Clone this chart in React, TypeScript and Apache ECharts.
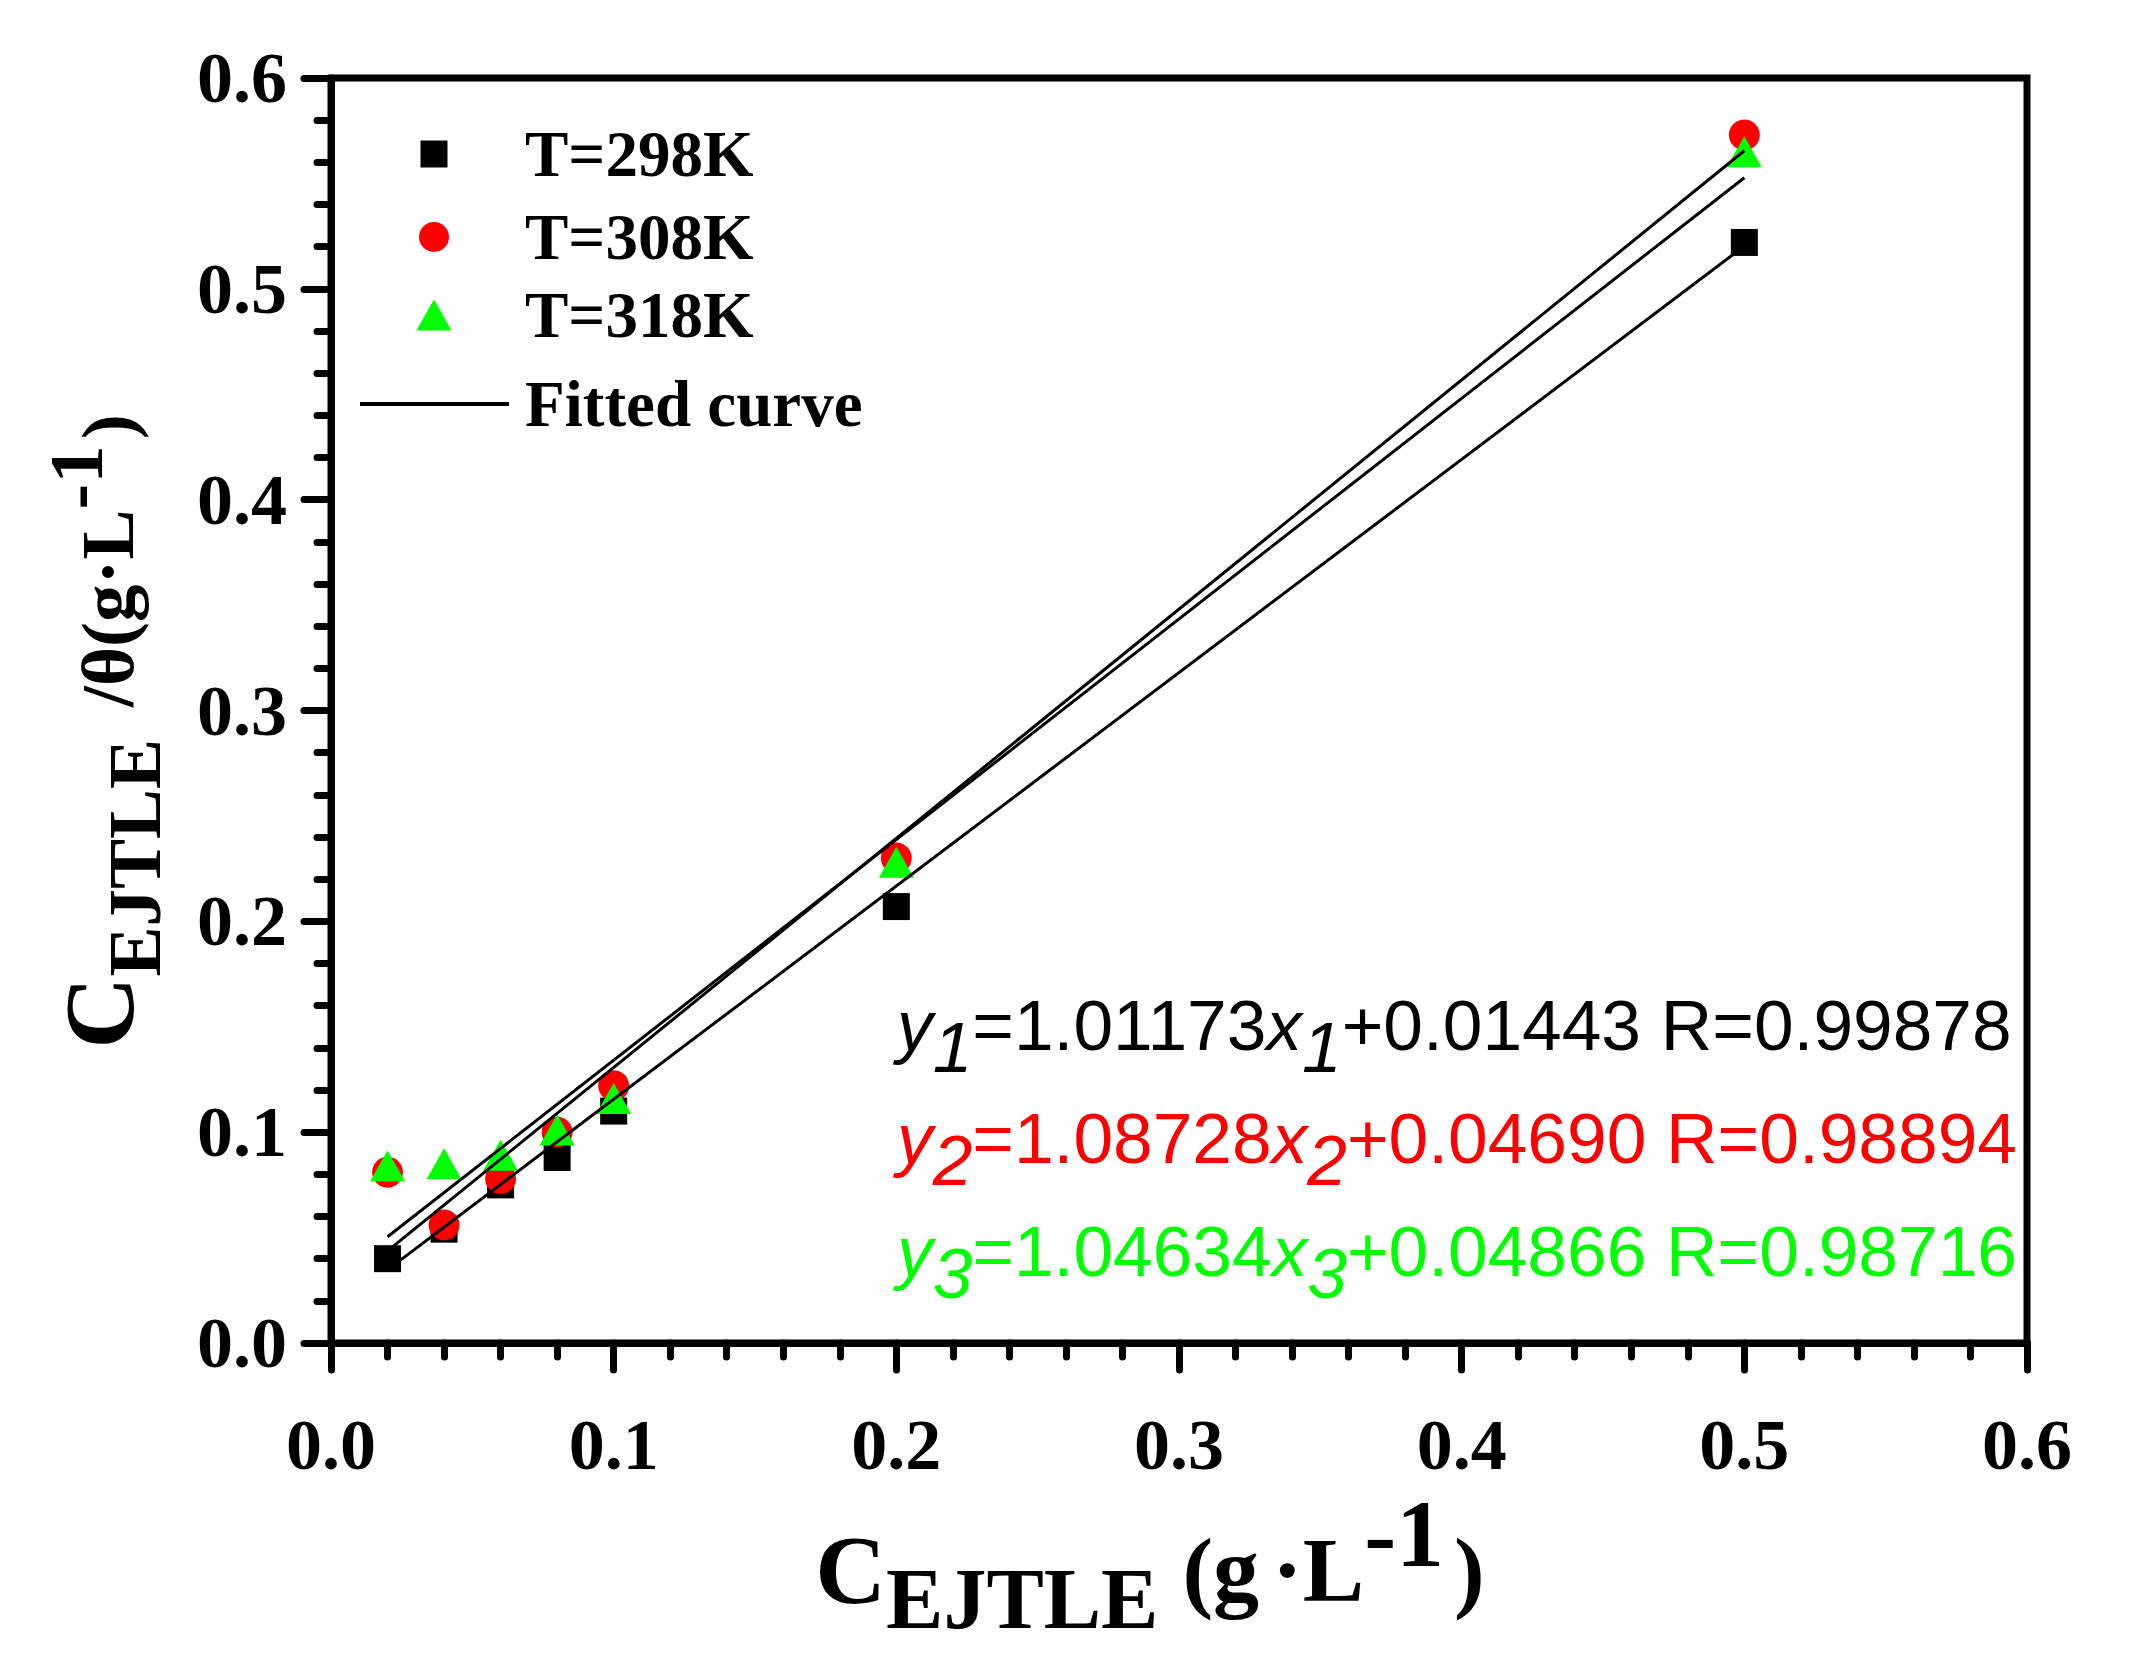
import React, { useEffect, useRef } from "react";
import * as echarts from "echarts";

// ---- data ----
const xValues = [0.02, 0.04, 0.06, 0.08, 0.1, 0.2, 0.5];
const y298 = [0.04, 0.054, 0.075, 0.088, 0.11, 0.207, 0.522];
const y308 = [0.081, 0.056, 0.078, 0.1, 0.122, 0.23, 0.573];
const y318 = [0.084, 0.085, 0.089, 0.101, 0.116, 0.228, 0.565];

const fitX = [0.02, 0.5];
const fit298 = [0.0347, 0.5203];
const fit308 = [0.0437, 0.5655];
const fit318 = [0.0504, 0.5527];

const seriesNames = ["T=298K", "T=308K", "T=318K"];
const fitName = "Fitted curve";
const seriesColors = ["#000000", "#ff0000", "#00ff00"];

const eqSlopes = ["1.01173", "1.08728", "1.04634"];
const eqIntercepts = ["0.01443", "0.04690", "0.04866"];
const eqR = ["0.99878", "0.98894", "0.98716"];

const SERIF = "Liberation Serif";
const SANS = "Liberation Sans";

const pairs = (xs: number[], ys: number[]) => xs.map((x, i) => [x, ys[i]]);

function buildOption() {
  const tickFont = { fontFamily: SERIF, fontWeight: "bold", fontSize: 72, color: "#000" };
  const lineBlack = { color: "#000", width: 7, cap: "round" };

  const legendBase = {
    orient: "vertical",
    padding: 0,
    itemGap: 0,
    selectedMode: false,
    symbolKeepAspect: true,
    itemStyle: { borderWidth: 0 },
    textStyle: { fontFamily: SERIF, fontWeight: "bold", fontSize: 65, color: "#000" },
  };

  const serifTok = (size: number, padding?: number[]) => ({
    fontFamily: SERIF,
    fontWeight: "bold",
    fontSize: size,
    color: "#000",
    ...(padding ? { padding } : {}),
  });

  const eqGraphics = [0, 1, 2].map((i) => {
    const col = seriesColors[i];
    const base = { fontFamily: SANS, fontSize: 71.3, fill: col };
    const sub = String(i + 1);
    return {
      type: "text",
      x: 897,
      y: 1025 + i * 113,
      z: 100,
      style: {
        text: `{i|y}{s|${sub}}{n|=${eqSlopes[i]}}{i|x}{s|${sub}}{n|+${eqIntercepts[i]} R=${eqR[i]}}`,
        align: "left",
        verticalAlign: "middle",
        textAlign: "left",
        textVerticalAlign: "middle",
        fill: col,
        rich: {
          i: { ...base, fontStyle: "italic" },
          s: { ...base, fontStyle: "italic", padding: [44, 0, 0, 0] },
          n: { ...base },
        },
      },
    };
  });

  return {
    animation: false,
    backgroundColor: "#ffffff",
    grid: {
      left: 331,
      top: 78,
      right: 106,
      bottom: 316,
      show: true,
      borderColor: "#000",
      borderWidth: 7,
      backgroundColor: "transparent",
    },
    xAxis: {
      type: "value",
      min: 0,
      max: 0.6,
      interval: 0.1,
      axisLine: { show: true, onZero: false, lineStyle: { color: "#000", width: 7 } },
      axisTick: { show: true, inside: false, length: 27, lineStyle: lineBlack },
      minorTick: { show: true, splitNumber: 5, length: 14, lineStyle: lineBlack },
      splitLine: { show: false },
      minorSplitLine: { show: false },
      axisLabel: { ...tickFont, margin: 66, formatter: (v: number) => v.toFixed(1) },
      name: "{c|C}{sub|EJTLE}{n|(g}{d|·}{l|L}{sup|-1}{end|)}",
      nameLocation: "middle",
      nameGap: 131,
      nameTextStyle: {
        rich: {
          c: serifTok(98),
          sub: serifTok(86, [58, 0, 0, 0]),
          n: serifTok(92, [0, 0, 0, 24]),
          d: serifTok(92, [0, 0, 0, 13]),
          l: serifTok(92),
          sup: serifTok(96, [0, 0, 72, 0]),
          end: serifTok(92, [0, 58, 0, 10]),
        },
      },
    },
    yAxis: {
      type: "value",
      min: 0,
      max: 0.6,
      interval: 0.1,
      axisLine: { show: true, onZero: false, lineStyle: { color: "#000", width: 7 } },
      axisTick: { show: true, inside: false, length: 27, lineStyle: lineBlack },
      minorTick: { show: true, splitNumber: 5, length: 14, lineStyle: lineBlack },
      splitLine: { show: false },
      minorSplitLine: { show: false },
      axisLabel: { ...tickFont, margin: 44, formatter: (v: number) => v.toFixed(1) },
      name: "{c|C}{sub|EJTLE}{n|/θ(g·L}{sup|-1}{end|)}",
      nameLocation: "middle",
      nameRotate: 90,
      nameGap: 159,
      nameTextStyle: {
        rich: {
          c: serifTok(100),
          sub: serifTok(75, [71, 0, 0, 0]),
          n: serifTok(75, [17, 0, 0, 32]),
          sup: serifTok(77, [0, 0, 46, 0]),
          end: serifTok(75, [17, 42, 0, 6]),
        },
      },
    },
    legend: [
      {
        ...legendBase,
        data: [{ name: seriesNames[0], icon: "path://M0,0H10V10H0Z" }],
        left: 420.5,
        top: 121.5,
        itemWidth: 172,
        itemHeight: 27,
      },
      {
        ...legendBase,
        data: [{ name: seriesNames[1], icon: "path://M5,0A5,5 0 1 1 5,10A5,5 0 1 1 5,0Z" }],
        left: 419,
        top: 204.5,
        itemWidth: 172,
        itemHeight: 30,
      },
      {
        ...legendBase,
        data: [{ name: seriesNames[2], icon: "path://M17.5,0L35,31H0Z" }],
        left: 416.5,
        top: 282.5,
        itemWidth: 172,
        itemHeight: 31,
      },
      {
        ...legendBase,
        data: [{ name: fitName, icon: "path://M0,0H149V4H0Z" }],
        left: 360,
        top: 371.5,
        itemWidth: 171,
        itemHeight: 4,
      },
    ],
    series: [
      {
        name: seriesNames[0],
        type: "scatter",
        symbol: "rect",
        symbolSize: 27,
        itemStyle: { color: seriesColors[0], opacity: 1 },
        data: pairs(xValues, y298),
      },
      {
        name: seriesNames[1],
        type: "scatter",
        symbol: "circle",
        symbolSize: 31,
        itemStyle: { color: seriesColors[1], opacity: 1 },
        data: pairs(xValues, y308),
      },
      {
        name: seriesNames[2],
        type: "scatter",
        symbol: "triangle",
        symbolSize: [35, 31],
        itemStyle: { color: seriesColors[2], opacity: 1 },
        data: pairs(xValues, y318),
      },
      ...[fit298, fit308, fit318].map((fy) => ({
        name: fitName,
        type: "line",
        symbol: "none",
        showSymbol: false,
        lineStyle: { color: "#000", width: 3 },
        itemStyle: { color: "#000" },
        data: pairs(fitX, fy),
      })),
    ],
    graphic: eqGraphics,
  };
}

export default function App() {
  const ref = useRef<HTMLDivElement>(null);
  useEffect(() => {
    document.body.style.margin = "0";
    const chart = echarts.init(ref.current as HTMLDivElement, null, { renderer: "svg" });
    chart.setOption(buildOption() as any);
    return () => chart.dispose();
  }, []);
  return <div ref={ref} style={{ width: 2133, height: 1659, background: "#fff" }} />;
}
